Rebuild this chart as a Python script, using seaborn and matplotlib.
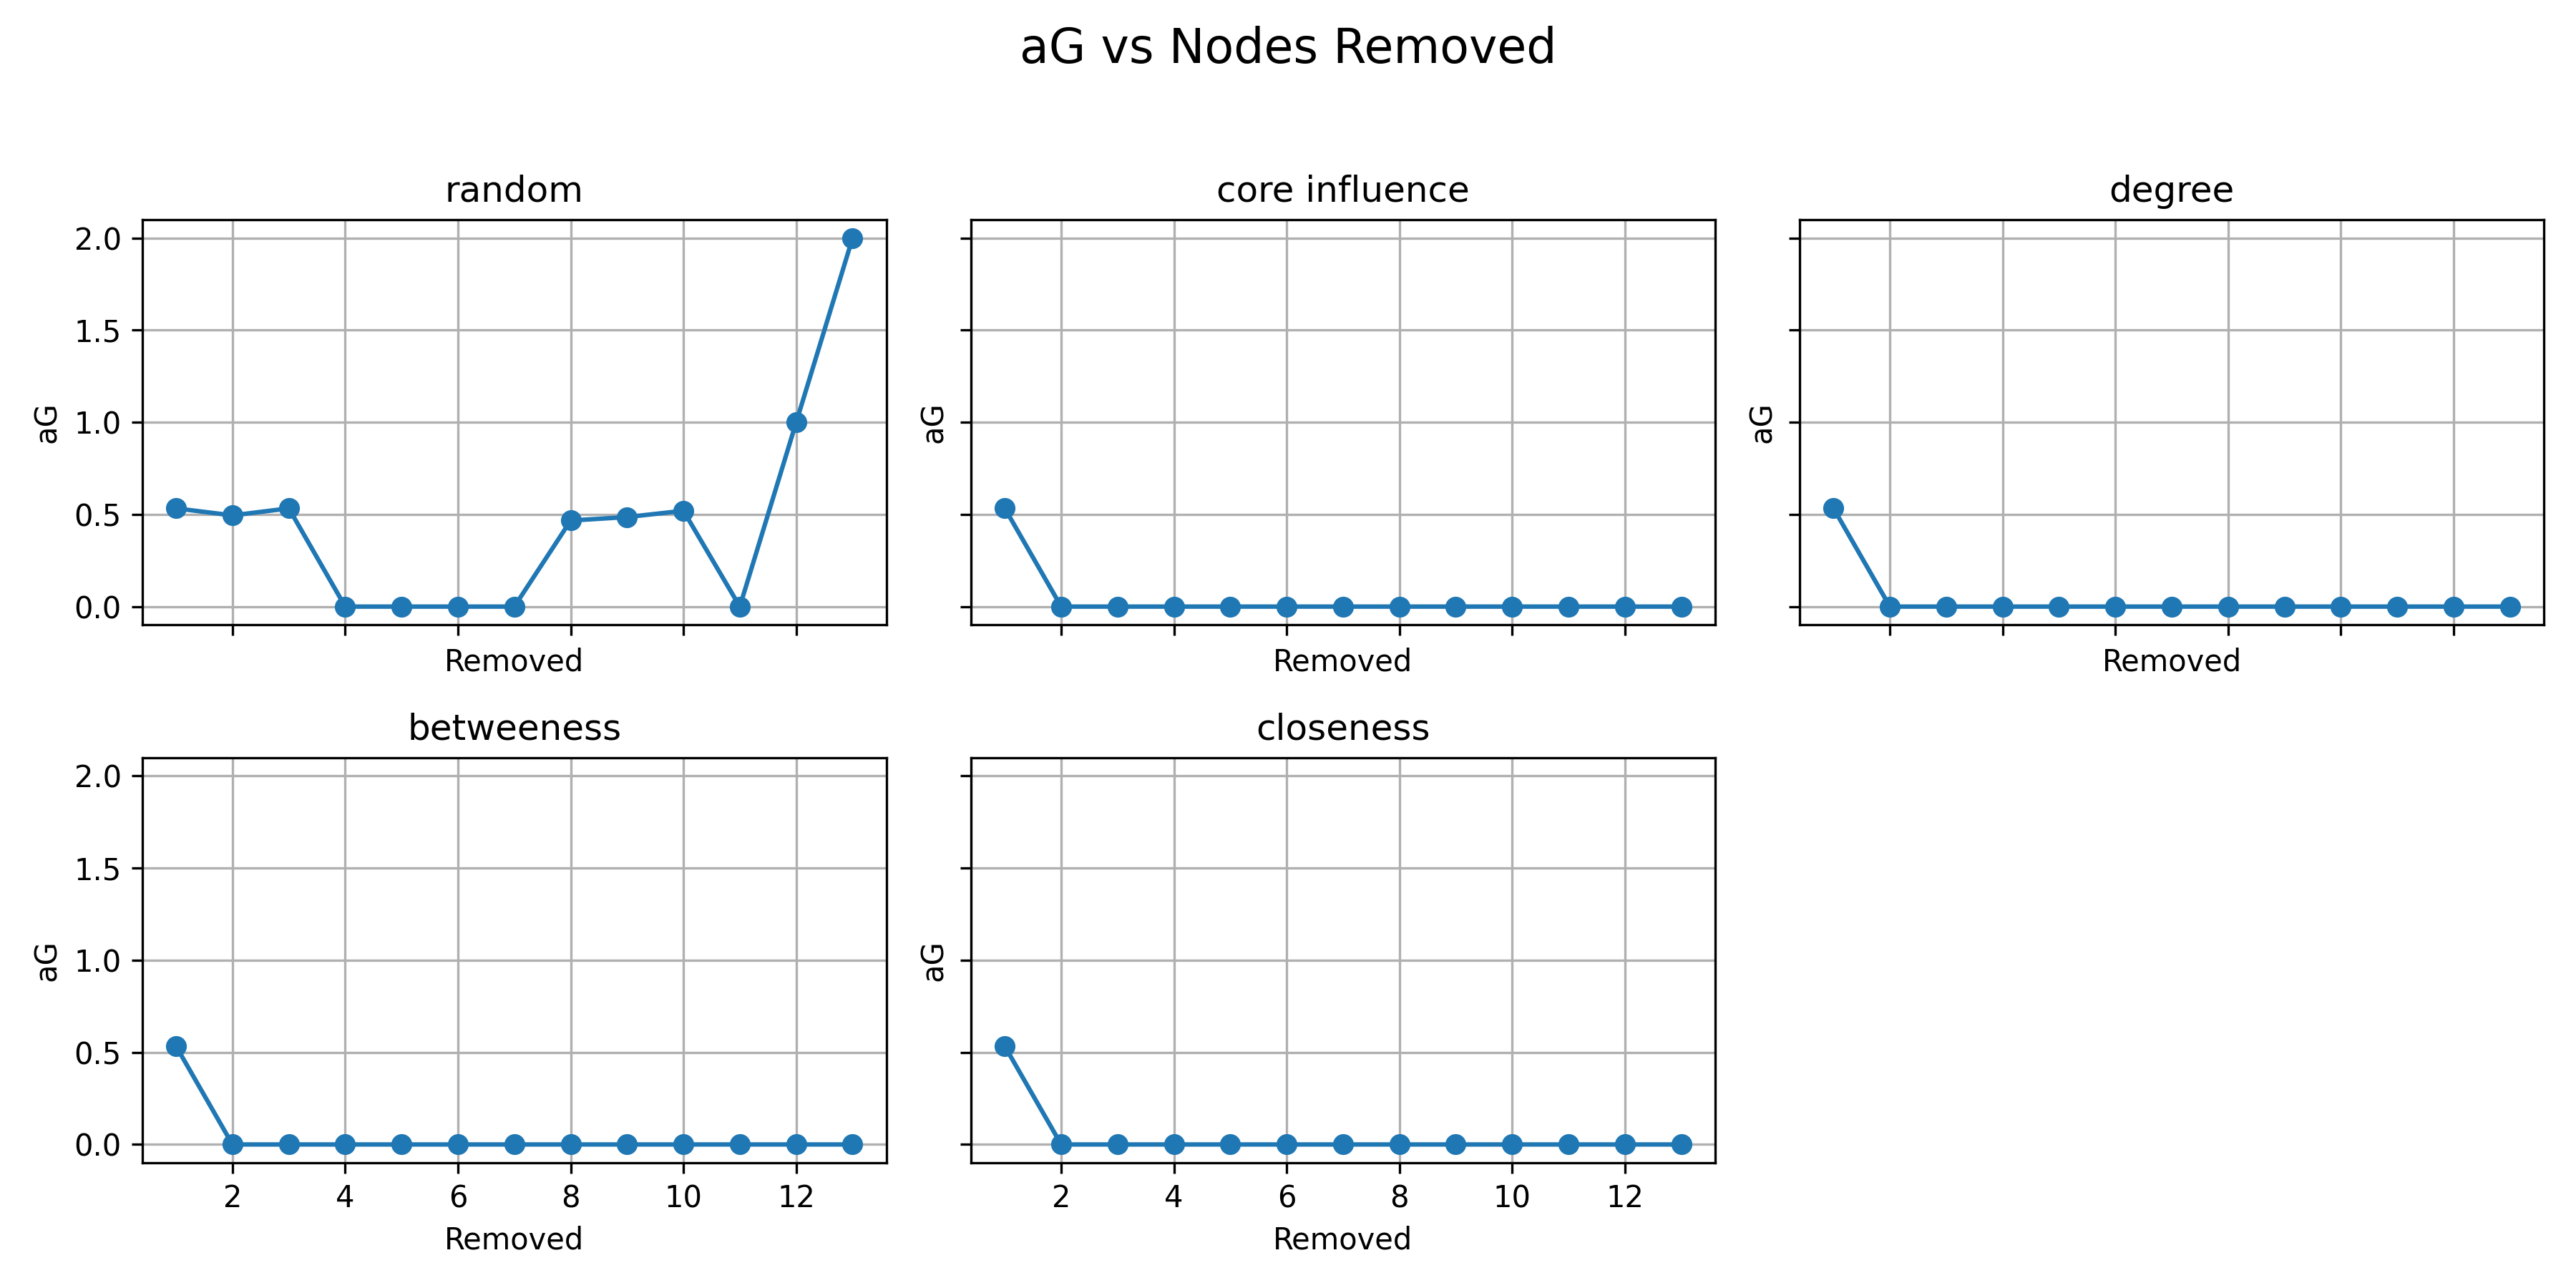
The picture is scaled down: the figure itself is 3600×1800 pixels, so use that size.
import pandas as pd
import matplotlib
matplotlib.use('Agg')
import matplotlib.pyplot as plt
import seaborn as sns

removed = list(range(1, 14))
strategies = ['random', 'core influence', 'degree', 'betweeness', 'closeness']

ag_random = [0.533, 0.495, 0.533, 0, 0, 0, 0, 0.467, 0.486, 0.52, 0, 1.0, 2.0]
ag_core = [0.533, 0, 0, 0, 0, 0, 0, 0, 0, 0, 0, 0, 0]
ag_degree = [0.533, 0, 0, 0, 0, 0, 0, 0, 0, 0, 0, 0, 0]
ag_betweeness = [0.533, 0, 0, 0, 0, 0, 0, 0, 0, 0, 0, 0, 0]
ag_closeness = [0.533, 0, 0, 0, 0, 0, 0, 0, 0, 0, 0, 0, 0]

series = [ag_random, ag_core, ag_degree, ag_betweeness, ag_closeness]

fig, axes = plt.subplots(2, 3, figsize=(12, 6), sharex=True, sharey=True)
axes = axes.flatten()

for ax, name, values in zip(axes, strategies, series):
    df = pd.DataFrame({'Removed': removed, 'aG': values})
    sns.lineplot(x='Removed', y='aG', data=df, ax=ax, marker='o',
                 color='#1f77b4', markersize=6, mec='#1f77b4', mew=1)
    ax.set_title(name)
    ax.set_xlabel('Removed')
    ax.set_ylabel('aG')
    # shared axes hide the labels of inner plots, bring them back
    ax.xaxis.label.set_visible(True)
    ax.yaxis.label.set_visible(True)
    ax.grid(True)

fig.delaxes(axes[5])
fig.suptitle('aG vs Nodes Removed', fontsize=16)
plt.tight_layout(rect=[0, 0, 1, 0.95])
plt.savefig('out.png', dpi=300)
